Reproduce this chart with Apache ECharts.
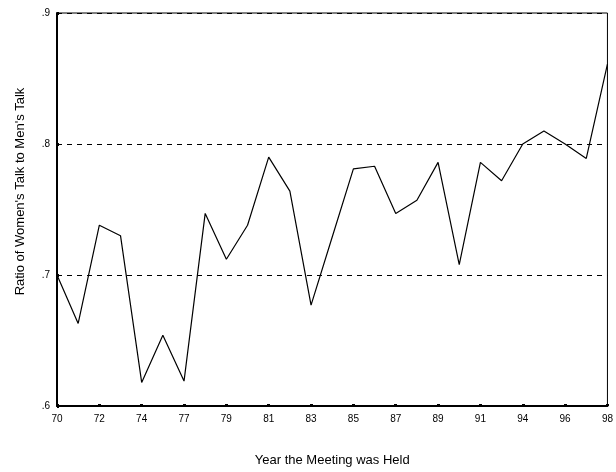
<!DOCTYPE html>
<html>
<head>
<meta charset="utf-8">
<script src="https://cdn.jsdelivr.net/npm/echarts@6/dist/echarts.min.js"></script>
<style>
html,body{margin:0;padding:0;background:#fff;}
#chart{width:616px;height:472px;}
</style>
</head>
<body>
<div id="chart"></div>
<script>
// Meeting years (category axis; labels shown every other category)
const years = ['70','71','72','73','74','75','77','78','79','80','81','82','83','84','85','86','87','88','89','90','91','92','94','95','96','97','98'];
// Ratio of women's talk to men's talk
const ratio = [0.700,0.663,0.738,0.730,0.618,0.654,0.619,0.747,0.712,0.738,0.790,0.764,0.677,0.729,0.781,0.783,0.747,0.757,0.786,0.708,0.786,0.772,0.800,0.810,0.800,0.789,0.861];
const yMin = 0.6, yMax = 0.9, yStep = 0.1;

const chart = echarts.init(document.getElementById('chart'), null, {renderer:'canvas'});
const font = 'Liberation Sans, Arial, sans-serif';
chart.setOption({
  animation: false,
  backgroundColor: '#fff',
  grid: {left:57, right:6, top:13, bottom:65, show:true, borderColor:'#000', borderWidth:1, backgroundColor:'transparent'},
  xAxis: {
    type:'category', data: years, boundaryGap:false,
    name:'Year the Meeting was Held', nameLocation:'middle', nameGap:48,
    nameTextStyle:{color:'#000', fontFamily:font, fontSize:13},
    axisLine:{show:true, lineStyle:{color:'#000', width:2}},
    axisTick:{show:true, alignWithLabel:true, interval:1, length:2, inside:true, lineStyle:{color:'#000', width:3}},
    axisLabel:{interval:1, color:'#000', fontFamily:font, fontSize:10, margin:8},
    splitLine:{show:false}
  },
  yAxis: {
    type:'value', min:yMin, max:yMax, interval:yStep,
    name:"Ratio of Women's Talk to Men's Talk", nameLocation:'middle', nameGap:30,
    nameTextStyle:{color:'#000', fontFamily:font, fontSize:13, padding:[0,0,0,36]},
    axisLine:{show:true, lineStyle:{color:'#000', width:2}},
    axisTick:{show:true, length:2, inside:true, lineStyle:{color:'#000', width:3}},
    axisLabel:{color:'#000', fontFamily:font, fontSize:10, margin:7,
      formatter: v => '.' + Math.round(v*10)},
    splitLine:{show:true, lineStyle:{color:'#000', type:[5,5], width:1}}
  },
  series: [{
    type:'line', data: ratio, showSymbol:false, symbol:'none',
    lineStyle:{color:'#000', width:1.2}
  }]
});
</script>
</body>
</html>
